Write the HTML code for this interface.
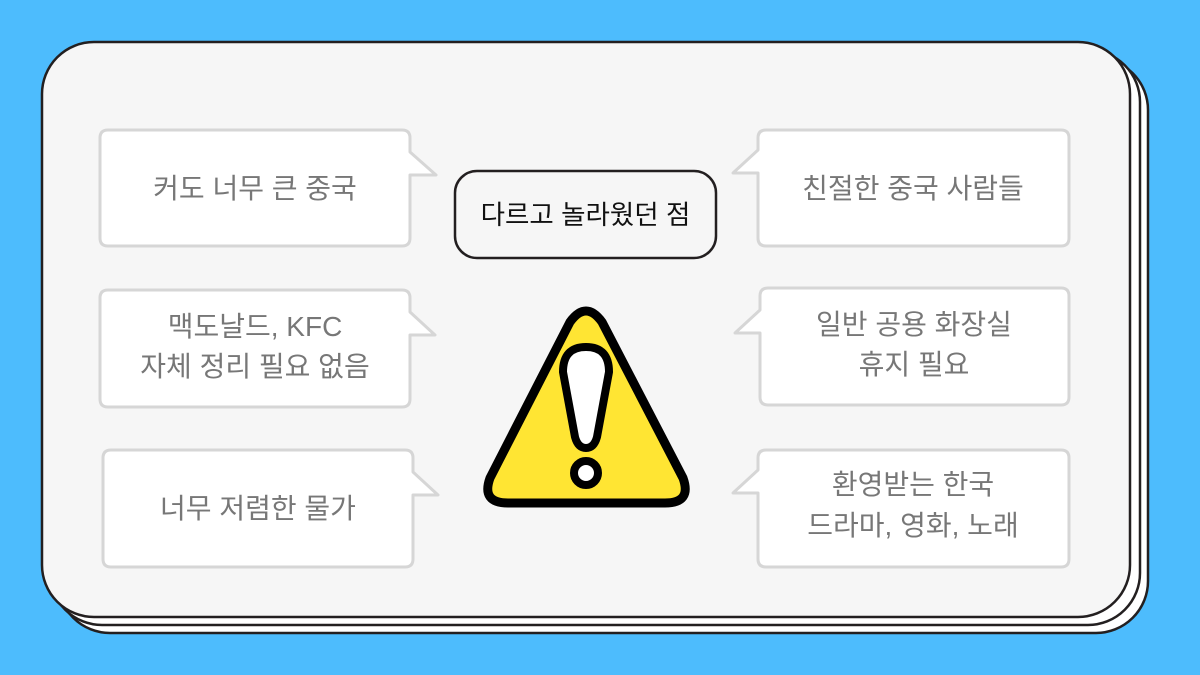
<!DOCTYPE html>
<html><head><meta charset="utf-8"><style>
html,body{margin:0;padding:0;background:#4dbcfd;}
svg{display:block}
text{font-family:"Liberation Sans","Noto Sans CJK KR",sans-serif;}
</style></head><body>
<svg width="1200" height="675" viewBox="0 0 1200 675" xmlns="http://www.w3.org/2000/svg">
<rect width="1200" height="675" fill="#4dbcfd"/>
<rect x="58" y="58" width="1090" height="575" rx="52" fill="#fff" stroke="#231f20" stroke-width="2.5"/>
<rect x="50" y="50" width="1090" height="575" rx="52" fill="#fff" stroke="#231f20" stroke-width="2.5"/>
<rect x="42" y="42" width="1088" height="575" rx="52" fill="#f6f6f6" stroke="#231f20" stroke-width="2.5"/>

<g fill="#fff" stroke="#d6d6d6" stroke-width="3" stroke-linejoin="round">
<path d="M108 130 H402 Q410 130 410 138 V152 L436 175 H410 V238 Q410 246 402 246 H108 Q100 246 100 238 V138 Q100 130 108 130 Z"/>
<path d="M108 290 H402 Q410 290 410 298 V312 L435 335 H410 V399 Q410 407 402 407 H108 Q100 407 100 399 V298 Q100 290 108 290 Z"/>
<path d="M111 450 H405 Q413 450 413 458 V472 L438 495 H413 V559 Q413 567 405 567 H111 Q103 567 103 559 V458 Q103 450 111 450 Z"/>
<path d="M766 130 H1061 Q1069 130 1069 138 V238 Q1069 246 1061 246 H766 Q758 246 758 238 V173 H733 L758 150 V138 Q758 130 766 130 Z"/>
<path d="M768 288 H1061 Q1069 288 1069 296 V397 Q1069 405 1061 405 H768 Q760 405 760 397 V333 H735 L760 310 V296 Q760 288 768 288 Z"/>
<path d="M766 450 H1061 Q1069 450 1069 458 V559 Q1069 567 1061 567 H766 Q758 567 758 559 V493 H733 L758 470 V458 Q758 450 766 450 Z"/>
</g>

<rect x="455" y="171" width="261" height="87" rx="22" fill="#f6f6f6" stroke="#231f20" stroke-width="2.5"/>
<text x="585.5" y="224" font-size="26.5" fill="#111" text-anchor="middle">다르고 놀라웠던 점</text>

<g font-size="28" fill="#777" text-anchor="middle">
<text x="255" y="198">커도 너무 큰 중국</text>
<text x="255" y="336">맥도날드, KFC</text>
<text x="255" y="376">자체 정리 필요 없음</text>
<text x="258" y="518">너무 저렴한 물가</text>
<text x="913" y="198">친절한 중국 사람들</text>
<text x="914" y="334">일반 공용 화장실</text>
<text x="914" y="374">휴지 필요</text>
<text x="913" y="494">환영받는 한국</text>
<text x="913" y="535">드라마, 영화, 노래</text>
</g>

<path d="M570 322 Q586 300 602 322 L683 478 Q692 503 665 503 H508 Q481 503 490 478 Z" fill="#ffe533" stroke="#000" stroke-width="9" stroke-linejoin="round"/>
<path d="M586 347 Q609 347 609 372 L597 437 Q594 448 586 448 Q578 448 575 437 L563 372 Q563 347 586 347 Z" fill="#fff" stroke="#000" stroke-width="8" stroke-linejoin="round"/>
<circle cx="586" cy="473" r="12" fill="#fff" stroke="#000" stroke-width="8"/>
</svg>
</body></html>
